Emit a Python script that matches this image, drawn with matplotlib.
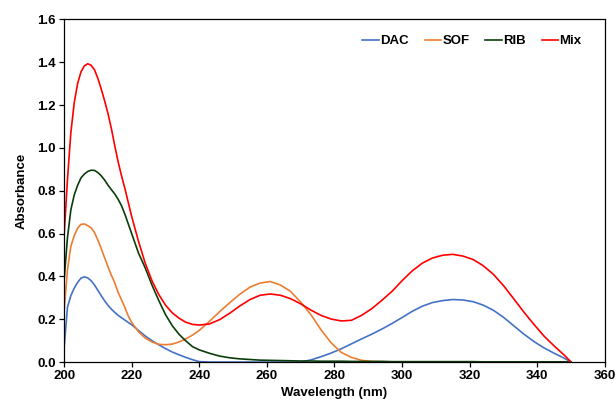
#!/usr/bin/env python3
"""UV absorption spectra of DAC, SOF, RIB and their mixture."""

import numpy as np
import matplotlib
matplotlib.use("Agg")
import matplotlib.pyplot as plt
from matplotlib.ticker import FormatStrFormatter

# wavelength grid (nm)
wavelength = [200, 201, 202, 203, 204, 205, 206, 207, 208, 209, 210, 211, 212,
              213, 214, 215, 216, 217, 218, 219, 220,
              222, 224, 226, 228, 230, 232, 234, 236, 238, 240,
              243, 246, 249, 252, 255, 258, 261, 264, 267, 270,
              273, 276, 279, 282, 285, 288, 291, 294, 297, 300,
              303, 306, 309, 312, 315, 318, 321, 324, 327, 330,
              333, 336, 339, 342, 345, 348, 350]

dac = [0.064, 0.255, 0.31, 0.345, 0.372, 0.392, 0.398, 0.393, 0.38, 0.36,
       0.335, 0.31, 0.286, 0.265, 0.247, 0.232, 0.218, 0.207, 0.196, 0.185,
       0.174,
       0.148, 0.122, 0.1, 0.081, 0.063, 0.047, 0.034, 0.022, 0.011, 0.002,
       0.0, 0.0, 0.0, 0.0, 0.0, 0.0, 0.0, 0.0, 0.0, 0.0,
       0.01, 0.025, 0.042, 0.062, 0.085, 0.108, 0.13, 0.154, 0.18, 0.208,
       0.237, 0.261, 0.278, 0.287, 0.292, 0.29, 0.282, 0.266, 0.242, 0.209,
       0.17, 0.131, 0.096, 0.066, 0.041, 0.018, 0.0]

sof = [0.235, 0.43, 0.54, 0.59, 0.625, 0.643, 0.645, 0.637, 0.627, 0.605,
       0.57, 0.53, 0.487, 0.445, 0.405, 0.37, 0.325, 0.29, 0.255, 0.215,
       0.185,
       0.142, 0.112, 0.094, 0.083, 0.081, 0.084, 0.094, 0.108, 0.126, 0.148,
       0.19, 0.235, 0.277, 0.317, 0.35, 0.369, 0.376, 0.36, 0.33, 0.28,
       0.222, 0.151, 0.09, 0.045, 0.022, 0.008, 0.003, 0.002, 0.001, 0.001,
       0.001, 0.001, 0.001, 0.001, 0.001, 0.001, 0.001, 0.001, 0.001, 0.001,
       0.001, 0.001, 0.001, 0.001, 0.001, 0.001, 0.0]

rib = [0.38, 0.58, 0.71, 0.78, 0.825, 0.86, 0.878, 0.89, 0.896, 0.895,
       0.885, 0.87, 0.85, 0.826, 0.805, 0.785, 0.76, 0.73, 0.69, 0.645,
       0.60,
       0.51, 0.44, 0.36, 0.288, 0.222, 0.17, 0.13, 0.099, 0.072, 0.057,
       0.041, 0.028, 0.02, 0.015, 0.012, 0.009, 0.008, 0.007, 0.006, 0.005,
       0.005, 0.004, 0.004, 0.004, 0.003, 0.003, 0.003, 0.003, 0.002, 0.002,
       0.002, 0.002, 0.002, 0.002, 0.002, 0.002, 0.002, 0.001, 0.001, 0.001,
       0.001, 0.001, 0.001, 0.001, 0.001, 0.001, 0.0]

mix = [0.59, 0.85, 1.07, 1.21, 1.30, 1.355, 1.383, 1.393, 1.386, 1.365,
       1.325, 1.275, 1.22, 1.16, 1.09, 1.01, 0.935, 0.87, 0.81, 0.745,
       0.68,
       0.565, 0.462, 0.38, 0.316, 0.266, 0.23, 0.205, 0.186, 0.176, 0.173,
       0.178, 0.198, 0.228, 0.262, 0.292, 0.312, 0.318, 0.312, 0.296, 0.272,
       0.243, 0.218, 0.201, 0.192, 0.195, 0.218, 0.249, 0.288, 0.33, 0.38,
       0.426, 0.462, 0.486, 0.499, 0.503, 0.495, 0.479, 0.45, 0.41, 0.357,
       0.296, 0.234, 0.176, 0.121, 0.075, 0.032, 0.0]

series = [("DAC", dac, "#4472C4"),
          ("SOF", sof, "#ED7D31"),
          ("RIB", rib, "#0B3D0B"),
          ("Mix", mix, "#FF0000")]

plt.rcParams["font.family"] = ["Liberation Sans", "DejaVu Sans"]
plt.rcParams["font.weight"] = "bold"

fig = plt.figure(figsize=(6.16, 4.05), dpi=100)
ax = fig.add_axes([0.104, 0.106, 0.878, 0.846])

for name, vals, col in series:
    ax.plot(wavelength, vals, color=col, lw=1.2, label=name)

ax.set_xlim(200, 360)
ax.set_ylim(0, 1.6)
ax.set_xticks(np.arange(200, 361, 20))
ax.set_yticks(np.arange(0, 1.61, 0.2))
ax.yaxis.set_major_formatter(FormatStrFormatter("%.1f"))
ax.tick_params(direction="out", length=3.5, width=0.9, labelsize=9.5, pad=2.5)
for lab in ax.get_xticklabels() + ax.get_yticklabels():
    lab.set_fontweight("bold")
for sp in ax.spines.values():
    sp.set_linewidth(0.9)

ax.set_xlabel("Wavelength (nm)", fontsize=9.5, fontweight="bold", labelpad=3)
ax.set_ylabel("Absorbance", fontsize=9.5, fontweight="bold", labelpad=7)

leg = ax.legend(loc="center right", ncol=4, frameon=False, fontsize=9.5,
                handlelength=1.25, handletextpad=0.1, columnspacing=1.2,
                borderpad=0, borderaxespad=0,
                bbox_to_anchor=(0.957, 0.937))
for t in leg.get_texts():
    t.set_fontweight("bold")

fig.savefig("out.png", dpi=100)
